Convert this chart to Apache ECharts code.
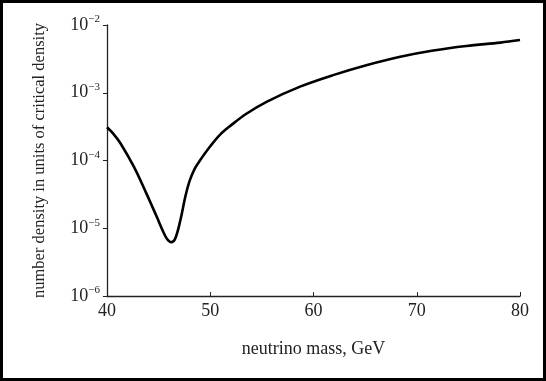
<!DOCTYPE html>
<html>
<head>
<meta charset="utf-8">
<script src="https://cdn.jsdelivr.net/npm/echarts@6/dist/echarts.min.js"></script>
<style>
html, body { margin: 0; padding: 0; background: #fff; }
#chart { width: 546px; height: 381px; }
</style>
</head>
<body>
<div id="chart"></div>
<script>
// masa del neutrino (GeV) y densidad numerica
var masa = [40, 40.6, 41.3, 42.6, 43.8, 44.8, 45.5, 45.8, 46.2, 46.6, 47.1, 47.6, 48, 48.5, 49, 50, 51, 52, 53.5, 55.5, 58.7, 61.9, 65.2, 68.4, 71.6, 74.8, 78.1, 80];
var densidad = [3.1e-4, 2.5e-4, 1.8e-4, 8.1e-5, 3.3e-5, 1.5e-5, 8.5e-6, 7.0e-6, 6.2e-6, 7.0e-6, 1.3e-5, 3.0e-5, 5.0e-5, 7.6e-5, 1.0e-4, 1.62e-4, 2.45e-4, 3.3e-4, 4.9e-4, 7.4e-4, 1.23e-3, 1.82e-3, 2.57e-3, 3.4e-3, 4.2e-3, 4.9e-3, 5.5e-3, 6.0e-3];
var ticksX = [40, 50, 60, 70, 80];

var fuente = '"Liberation Serif", "DejaVu Serif", serif';
var datos = masa.map(function (m, i) { return [m, densidad[i]]; });

var myChart = echarts.init(document.getElementById('chart'));
myChart.setOption({
	animation: false,
	backgroundColor: '#fff',
	graphic: [{
		type: 'rect',
		shape: { x: 1.5, y: 1.5, width: 543, height: 378 },
		style: { fill: 'none', stroke: '#000', lineWidth: 3 }
	}],
	grid: { left: 107, right: 26, top: 25, bottom: 85 },
	xAxis: {
		type: 'value', min: 40, max: 80, interval: 10,
		name: 'neutrino mass, GeV', nameLocation: 'middle', nameGap: 44,
		nameTextStyle: { fontFamily: fuente, fontSize: 18, color: '#222' },
		axisLine: { lineStyle: { color: '#222', width: 1.3 } },
		axisTick: { inside: true, length: 4, lineStyle: { color: '#222' } },
		axisLabel: { fontFamily: fuente, fontSize: 18, color: '#222', margin: 6,
			formatter: function (v) { return ticksX.indexOf(v) >= 0 ? String(v) : ''; } },
		splitLine: { show: false }
	},
	yAxis: {
		type: 'log', logBase: 10, min: 1e-6, max: 1e-2,
		name: 'number density in units of critical density', nameLocation: 'middle', nameGap: 59,
		nameTextStyle: { fontFamily: fuente, fontSize: 16.5, color: '#222' },
		axisLine: { lineStyle: { color: '#222', width: 1.3 } },
		axisTick: { length: 4, lineStyle: { color: '#222' } },
		axisLabel: {
			margin: 7,
			formatter: function (v) {
				var e = Math.round(Math.log10(v));
				return '{b|10}{s|\u2212' + (-e) + '}';
			},
			rich: {
				b: { fontFamily: fuente, fontSize: 18, color: '#222' },
				s: { fontFamily: fuente, fontSize: 11, color: '#222', padding: [0, 0, 11, 0] }
			}
		},
		splitLine: { show: false }
	},
	series: [{
		type: 'line',
		data: datos,
		smooth: 0.35,
		showSymbol: false,
		lineStyle: { color: '#000', width: 2.6 }
	}]
});
</script>
</body>
</html>
